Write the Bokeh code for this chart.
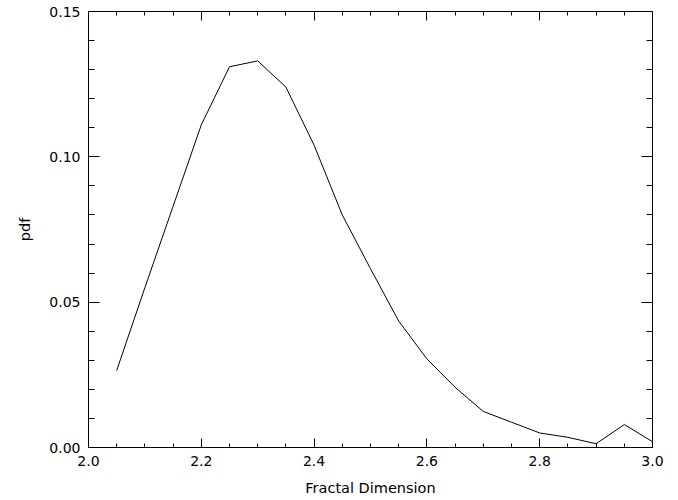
from bokeh.plotting import figure
from bokeh.models import LinearAxis, FixedTicker, PrintfTickFormatter, CustomJSTickFormatter, Range1d
from bokeh.embed import file_html
from bokeh.resources import INLINE

fractal_dim = [2.05, 2.10, 2.15, 2.20, 2.25, 2.30, 2.35, 2.40, 2.45, 2.50,
               2.55, 2.60, 2.65, 2.70, 2.75, 2.80, 2.85, 2.90, 2.95, 3.00]
pdf = [0.0265, 0.055, 0.083, 0.111, 0.131, 0.133, 0.124, 0.104, 0.080, 0.0615,
       0.0435, 0.0305, 0.0207, 0.0124, 0.0087, 0.0050, 0.0035, 0.0013, 0.0079, 0.0020]

x_major = [2.0, 2.2, 2.4, 2.6, 2.8, 3.0]
x_minor = [round(2.0 + 0.05 * i, 2) for i in range(21)]
y_major = [0.0, 0.05, 0.10, 0.15]
y_minor = [round(0.01 * i, 2) for i in range(16)]

FONT = "DejaVu Sans"
p = figure(frame_width=564, frame_height=436, output_backend="svg", toolbar_location=None,
           x_range=Range1d(2.0, 3.0), y_range=Range1d(0.0, 0.15),
           x_axis_location=None, y_axis_location=None,
           min_border_left=88, min_border_right=14, min_border_top=11, min_border_bottom=45)
p.grid.visible = False
p.outline_line_color = "black"
p.outline_line_width = 1
p.background_fill_color = "white"
p.border_fill_color = "white"

blank = CustomJSTickFormatter(code="return ''")

def style(ax, tin, mtin):
    ax.major_tick_in = tin; ax.major_tick_out = 0
    ax.minor_tick_in = mtin; ax.minor_tick_out = 0
    ax.axis_line_color = "black"
    ax.major_tick_line_color = "black"
    ax.minor_tick_line_color = "black"

def mk_x(show):
    ax = LinearAxis(ticker=FixedTicker(ticks=x_major, minor_ticks=x_minor),
                    formatter=PrintfTickFormatter(format="%.1f") if show else blank)
    style(ax, 9, 4)
    if show:
        ax.axis_label = "Fractal Dimension"
        ax.axis_label_text_font = FONT
        ax.axis_label_text_font_style = "normal"
        ax.axis_label_text_font_size = "14.5px"
        ax.axis_label_text_color = "black"
        ax.axis_label_standoff = 11
        ax.major_label_text_font = FONT
        ax.major_label_text_font_size = "14px"
        ax.major_label_text_color = "black"
        ax.major_label_standoff = 8
    else:
        ax.major_label_standoff = 0
    return ax

def mk_y(show):
    ax = LinearAxis(ticker=FixedTicker(ticks=y_major, minor_ticks=y_minor),
                    formatter=PrintfTickFormatter(format="%.2f") if show else blank)
    style(ax, 11, 6)
    if show:
        ax.axis_label = "pdf"
        ax.axis_label_text_font = FONT
        ax.axis_label_text_font_style = "normal"
        ax.axis_label_text_font_size = "14.5px"
        ax.axis_label_text_color = "black"
        ax.axis_label_standoff = 13
        ax.major_label_text_font = FONT
        ax.major_label_text_font_size = "14px"
        ax.major_label_text_color = "black"
        ax.major_label_standoff = 8
    else:
        ax.major_label_standoff = 0
    return ax

p.add_layout(mk_x(True), "below")
p.add_layout(mk_x(False), "above")
p.add_layout(mk_y(True), "left")
p.add_layout(mk_y(False), "right")

p.line(fractal_dim, pdf, line_color="black", line_width=1)

open("out.html", "w").write(file_html(p, INLINE))
